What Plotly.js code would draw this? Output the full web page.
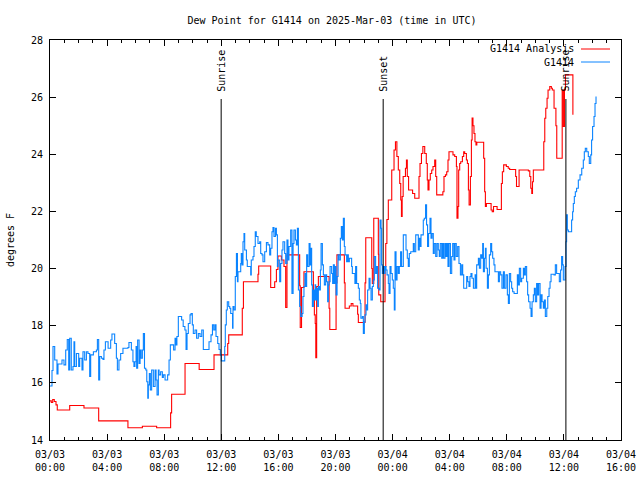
<!DOCTYPE html>
<html>
<head>
<meta charset="utf-8">
<script src="https://cdn.plot.ly/plotly-3.0.1.min.js"></script>
<style>
  html, body { margin: 0; padding: 0; background: #ffffff; }
  #chart { width: 640px; height: 480px; }
</style>
</head>
<body>
<div id="chart"></div>
<script>
// Time is in hours since 2025-03-03 00:00 UTC
const tickDates = ["03/03","03/03","03/03","03/03","03/03","03/03","03/04","03/04","03/04","03/04","03/04"];
const tickTimes = ["00:00","04:00","08:00","12:00","16:00","20:00","00:00","04:00","08:00","12:00","16:00"];
const tickHours = [0,4,8,12,16,20,24,28,32,36,40];

const sunTimes  = [11.99, 23.34, 36.14];
const sunLabels = ["Sunrise", "Sunset", "Sunrise"];

const seriesNames = ["G1414 Analysis", "G1414"];

// G1414 Analysis (red)
const analysisT = [0.00,0.09,0.19,0.30,0.42,0.51,1.38,2.38,3.41,5.46,6.47,7.47,8.45,8.52,9.46,10.45,11.49,12.45,12.52,13.47,13.55,14.57,14.62,15.46,15.74,15.86,15.97,16.21,16.39,16.51,16.60,17.49,17.53,17.62,17.79,18.45,18.52,18.58,18.62,18.68,18.80,19.55,19.60,20.04,20.10,20.62,20.67,20.97,21.10,21.22,21.55,21.60,22.07,22.12,22.54,22.58,22.68,23.00,23.03,23.17,23.47,23.52,23.60,23.70,23.94,24.10,24.20,24.30,24.40,24.50,24.57,24.62,24.67,24.74,24.90,24.97,25.03,25.12,25.40,25.55,25.85,25.92,26.02,26.12,26.25,26.36,26.43,26.48,26.55,26.64,26.74,26.83,26.95,27.02,27.09,27.52,27.60,27.70,27.79,27.88,27.95,28.23,28.35,28.47,28.51,28.58,28.63,28.70,28.77,28.89,28.98,29.05,29.17,29.24,29.31,29.36,29.45,29.52,29.57,29.63,29.70,29.77,29.84,29.90,30.38,30.45,30.50,30.57,30.90,30.98,31.07,31.32,31.62,31.69,31.78,31.97,32.10,32.20,32.62,32.68,32.86,33.51,33.61,33.68,33.75,33.80,33.86,34.59,34.66,34.73,34.82,34.89,35.01,35.12,35.19,35.31,35.44,35.50,35.88,35.96,36.04,36.11,36.63];
const analysisV = [15.37,15.31,15.42,15.35,15.23,15.05,15.21,15.12,14.67,14.43,14.48,14.43,14.95,15.60,16.68,16.47,16.98,17.38,17.68,18.61,19.54,19.80,20.09,19.34,19.54,19.97,20.44,20.30,20.07,18.64,20.48,19.40,17.94,19.34,19.89,19.00,18.38,18.08,16.88,19.37,19.72,18.61,17.87,19.50,20.48,19.50,18.61,18.69,18.78,18.69,18.40,18.11,19.50,21.08,20.00,19.48,21.76,20.50,19.08,18.84,20.07,20.88,21.72,22.40,23.45,24.15,24.44,23.92,23.45,22.98,22.40,21.82,22.52,23.22,23.51,23.80,23.22,22.75,22.63,22.46,23.22,23.68,24.03,24.27,24.03,23.68,23.10,22.75,23.10,23.33,23.45,23.57,23.80,23.22,22.58,22.69,23.22,23.28,23.39,23.80,24.09,23.98,23.92,23.57,21.76,22.17,23.45,23.68,23.74,23.92,24.09,24.03,23.80,23.68,22.75,22.23,23.22,24.50,25.27,25.00,24.73,24.44,24.33,24.42,23.86,22.69,22.17,22.28,22.05,21.99,22.17,22.07,22.98,23.39,23.63,23.57,23.51,23.47,23.22,22.87,23.45,23.42,23.22,22.81,22.63,23.04,23.45,24.44,25.26,25.61,25.96,26.25,26.37,26.31,26.25,25.61,25.00,23.86,26.25,24.97,26.25,26.78,25.38];

// G1414 observations (blue)
const obsT = [0.00,0.14,0.21,0.33,0.49,0.56,0.84,0.98,1.10,1.21,1.31,1.38,1.49,1.61,1.68,1.73,1.85,2.01,2.08,2.24,2.31,2.43,2.55,2.66,2.78,2.85,3.04,3.25,3.32,3.41,3.48,3.60,3.71,3.78,3.88,4.07,4.25,4.34,4.53,4.65,4.72,4.83,4.95,5.11,5.46,5.53,5.70,5.81,5.88,5.95,6.03,6.07,6.14,6.24,6.31,6.38,6.47,6.54,6.62,6.71,6.78,6.85,6.89,6.96,7.03,7.12,7.24,7.36,7.43,7.50,7.59,7.64,7.75,7.87,7.94,8.06,8.24,8.34,8.43,8.66,8.76,8.83,8.89,8.99,9.22,9.33,9.45,9.53,9.60,9.69,9.81,9.88,9.97,10.04,10.16,10.27,10.39,10.51,10.63,10.74,11.14,11.28,11.38,11.47,11.56,11.63,11.75,11.84,11.93,12.00,12.24,12.28,12.35,12.42,12.52,12.59,12.66,12.79,12.82,12.89,12.98,13.06,13.13,13.17,13.36,13.40,13.45,13.52,13.59,13.64,13.76,13.82,14.06,14.10,14.22,14.29,14.38,14.45,14.57,14.69,14.76,14.85,14.92,15.04,15.16,15.27,15.39,15.46,15.55,15.62,15.69,15.79,15.86,15.93,15.97,16.09,16.16,16.25,16.32,16.44,16.51,16.60,16.67,16.74,16.86,16.95,17.03,17.09,17.19,17.26,17.33,17.40,17.49,17.56,17.66,17.72,17.79,17.86,17.91,17.98,18.05,18.15,18.22,18.29,18.33,18.38,18.45,18.52,18.57,18.61,18.68,18.75,18.80,18.87,18.94,18.99,19.08,19.15,19.22,19.31,19.38,19.45,19.50,19.55,19.62,19.73,19.80,19.85,19.92,19.97,20.04,20.11,20.18,20.25,20.34,20.41,20.48,20.55,20.62,20.67,20.78,20.85,20.90,20.97,21.13,21.18,21.36,21.41,21.48,21.60,21.67,21.74,21.78,21.88,21.95,22.02,22.07,22.14,22.21,22.25,22.35,22.42,22.49,22.58,22.65,22.72,22.81,22.88,22.95,23.05,23.12,23.19,23.23,23.28,23.35,23.42,23.47,23.54,23.61,23.70,23.75,23.82,23.89,23.98,24.05,24.12,24.17,24.24,24.31,24.40,24.47,24.56,24.63,24.75,24.94,25.03,25.10,25.17,25.27,25.45,25.52,25.62,25.80,25.87,25.94,25.99,26.15,26.22,26.31,26.38,26.45,26.52,26.62,26.69,26.76,26.85,26.92,27.02,27.11,27.20,27.27,27.34,27.44,27.51,27.58,27.67,27.74,27.81,27.88,27.95,28.05,28.14,28.21,28.30,28.37,28.46,28.56,28.65,28.75,28.84,28.91,28.98,29.19,29.26,29.35,29.42,29.49,29.56,29.66,29.78,29.85,29.89,30.01,30.08,30.17,30.24,30.31,30.36,30.43,30.50,30.55,30.64,30.71,30.78,30.87,30.94,31.01,31.10,31.17,31.41,31.48,31.57,31.66,31.76,31.83,31.94,32.04,32.11,32.18,32.27,32.34,32.41,32.51,32.74,32.81,32.88,32.97,33.04,33.16,33.23,33.30,33.39,33.46,33.53,33.63,33.70,33.77,33.86,33.93,34.00,34.09,34.16,34.23,34.33,34.40,34.47,34.56,34.63,34.70,34.80,34.87,34.96,35.03,35.10,35.31,35.40,35.49,35.68,35.77,35.84,35.91,35.96,36.08,36.15,36.19,36.24,36.31,36.54,36.61,36.66,36.73,36.80,36.89,37.01,37.13,37.25,37.36,37.43,37.50,37.60,37.71,37.78,37.88,37.94,38.01,38.11,38.18,38.25];
const obsV = [15.89,16.43,17.27,16.80,16.31,16.66,16.80,16.63,17.15,17.52,16.45,17.56,16.45,16.57,17.44,16.57,17.03,16.57,16.86,16.45,17.09,16.80,17.09,17.03,16.22,16.98,17.09,17.15,17.52,16.10,16.92,16.86,16.82,17.15,17.44,17.21,17.50,17.71,17.38,16.86,16.45,16.80,17.03,17.21,17.24,17.41,17.15,16.74,16.57,16.74,17.27,16.51,17.50,16.68,17.15,16.86,17.15,17.73,16.51,16.45,16.04,15.46,15.93,16.33,15.75,16.45,15.87,16.45,16.10,15.58,16.45,16.28,16.39,16.19,16.28,16.10,16.28,16.80,17.33,17.15,17.56,17.33,17.62,18.32,18.20,17.97,17.85,17.17,17.73,18.08,18.38,18.43,18.03,17.73,17.85,17.56,17.73,17.62,17.85,17.17,17.44,17.68,18.03,17.85,18.03,17.62,17.38,17.17,16.98,16.77,17.27,18.03,18.55,18.84,18.67,18.61,18.43,17.91,18.67,18.55,19.72,20.53,19.54,19.89,20.18,20.53,20.13,20.94,21.23,20.65,20.30,20.07,19.78,20.30,20.42,20.77,21.29,21.12,20.88,20.94,20.53,20.48,20.24,20.59,20.91,20.83,20.48,20.71,21.29,21.44,21.12,21.41,21.18,20.07,20.30,19.54,20.18,20.65,20.94,20.53,20.18,21.00,20.30,20.77,21.35,19.13,20.88,21.35,21.00,20.83,21.41,19.25,18.67,18.32,18.43,19.02,19.37,19.83,19.37,20.48,20.07,20.88,20.13,20.71,19.43,18.67,19.25,18.90,19.43,18.90,19.31,18.67,19.37,19.25,19.95,20.88,20.13,19.78,19.43,19.78,19.54,18.84,19.43,19.54,20.07,19.83,19.48,20.13,19.48,20.07,19.08,19.72,20.48,20.30,21.06,21.47,21.00,21.76,20.77,20.48,20.24,20.48,20.24,20.36,20.07,19.83,19.48,20.07,19.48,19.31,18.90,18.78,18.26,18.32,17.73,18.14,18.38,18.73,18.55,19.25,19.66,19.31,18.90,19.37,19.60,20.42,19.83,20.07,19.31,19.25,21.70,21.41,20.13,19.83,20.07,19.83,20.07,19.95,19.78,19.48,19.13,20.07,19.83,19.60,19.31,18.55,20.59,19.60,20.07,19.83,20.07,20.59,20.07,21.18,20.65,20.36,20.07,20.53,20.59,20.88,20.59,21.18,20.65,21.06,20.77,21.18,21.70,21.76,22.23,21.53,20.77,21.23,21.76,21.06,21.23,20.53,20.88,20.42,20.88,20.65,20.42,20.88,20.36,20.88,20.36,20.88,20.42,20.88,20.07,20.88,19.83,20.42,20.88,20.30,20.88,20.42,20.77,20.18,19.78,20.13,19.78,19.31,19.72,19.54,19.37,19.72,19.83,19.66,19.31,19.78,19.31,20.13,20.36,20.01,20.48,20.36,20.88,19.89,20.36,20.71,20.01,19.31,19.78,20.48,20.88,20.59,20.36,20.13,19.89,19.54,19.89,19.78,19.31,19.89,19.31,19.78,19.08,18.78,19.83,19.54,19.31,19.19,19.13,19.78,19.43,20.01,19.54,19.66,20.01,19.78,20.07,19.54,19.08,18.84,18.61,18.32,18.84,19.08,19.31,18.84,19.48,19.08,19.48,18.61,19.08,18.84,18.61,18.90,18.32,18.61,19.02,19.31,19.54,19.80,19.78,20.13,19.83,19.54,19.95,20.42,20.13,19.60,20.07,20.94,21.88,21.35,21.29,21.70,21.99,22.28,22.52,22.69,22.81,23.10,23.28,23.51,23.80,24.09,24.21,24.09,23.92,23.68,23.98,24.50,24.97,25.32,25.78,26.02];

const colors = ["#ff0000", "#0a84ff"];
const FONT = "DejaVu Sans Mono, Liberation Mono, monospace";

const traces = [
  { x: analysisT, y: analysisV, name: seriesNames[0], type: "scatter", mode: "lines",
    line: { color: colors[0], width: 1.1, shape: "hv" }, showlegend: false },
  { x: obsT, y: obsV, name: seriesNames[1], type: "scatter", mode: "lines",
    line: { color: colors[1], width: 1.1, shape: "hv" }, showlegend: false }
];

const shapes = [];
const annotations = [];
sunTimes.forEach((t, i) => {
  shapes.push({ type: "line", xref: "x", yref: "paper", x0: t, x1: t, y0: 0, y1: 0.8525,
    line: { color: "#000000", width: 1 } });
  annotations.push({ xref: "x", yref: "paper", x: t, y: 0.866, text: sunLabels[i],
    textangle: -90, showarrow: false, xanchor: "center", yanchor: "bottom",
    font: { family: FONT, size: 10, color: "#000000" } });
});

// key (legend) in gnuplot style: text right, sample line to the right
const keyY = [0.9775, 0.945];
seriesNames.forEach((n, i) => {
  annotations.push({ xref: "paper", yref: "paper", x: (576 - 50) / 571, y: keyY[i], text: n,
    showarrow: false, xanchor: "right", yanchor: "middle",
    font: { family: FONT, size: 10, color: "#000000" } });
  shapes.push({ type: "line", xref: "paper", yref: "paper", x0: (581 - 50) / 571, x1: (610 - 50) / 571,
    y0: keyY[i], y1: keyY[i], line: { color: colors[i], width: 1 } });
});

const layout = {
  width: 640, height: 480,
  margin: { l: 50, r: 19, t: 40, b: 40, pad: 0 },
  paper_bgcolor: "#ffffff", plot_bgcolor: "#ffffff",
  font: { family: FONT, size: 10, color: "#000000" },
  title: { text: "Dew Point for G1414 on 2025-Mar-03 (time in UTC)", xref: "container", x: 332 / 640,
    yref: "container", y: 1 - 20 / 480, xanchor: "center", yanchor: "middle",
    font: { family: FONT, size: 10, color: "#000000" } },
  xaxis: {
    range: [0, 40], tickmode: "array", tickvals: tickHours,
    ticktext: tickDates.map((d, i) => d + "<br>" + tickTimes[i]),
    ticks: "inside", ticklen: 6, tickwidth: 1, tickcolor: "#000000",
    showline: true, linecolor: "#000000", linewidth: 1, mirror: "allticks",
    showgrid: false, zeroline: false, fixedrange: true,
    minor: { tickmode: "linear", tick0: 0, dtick: 1, ticks: "inside", ticklen: 3, tickcolor: "#000000", showgrid: false },
    tickfont: { family: FONT, size: 10, color: "#000000" },
    ticklabelstandoff: 5
  },
  yaxis: {
    range: [14, 28], tickmode: "linear", tick0: 14, dtick: 2,
    ticks: "inside", ticklen: 6, tickwidth: 1, tickcolor: "#000000",
    showline: true, linecolor: "#000000", linewidth: 1, mirror: "allticks",
    showgrid: false, zeroline: false, fixedrange: true,
    title: { text: "degrees F", standoff: 14, font: { family: FONT, size: 10, color: "#000000" } },
    tickfont: { family: FONT, size: 10, color: "#000000" },
    ticklabelstandoff: 4
  },
  shapes: shapes,
  annotations: annotations,
  showlegend: false
};

Plotly.newPlot("chart", traces, layout, { staticPlot: true, displayModeBar: false });
</script>
</body>
</html>
